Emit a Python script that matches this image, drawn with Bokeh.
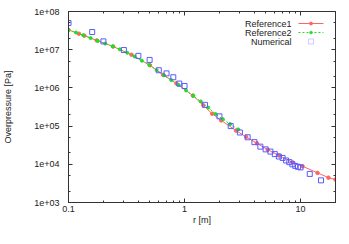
from bokeh.plotting import figure
from bokeh.models import LogAxis, FixedTicker, Label, Arrow, BoxAnnotation, Range1d
from bokeh.embed import file_html
from bokeh.resources import INLINE

# ---- data ----
ref1_r = [0.1, 0.123, 0.137, 0.175, 0.243, 0.349, 0.503, 0.653, 0.851, 1.18, 1.45, 1.73,
          2.07, 2.78, 3.39, 4.2, 5.21, 6.5, 8.54, 10.4, 14.0, 17.4, 20.0]
ref1_p = [3.3e7, 2.62e7, 2.33e7, 1.75e7, 1.21e7, 7.37e6, 3.91e6, 2.2e6, 1.31e6, 6.3e5, 3.52e5, 2.11e5,
          1.41e5, 7.63e4, 5.22e4, 3.56e4, 2.41e4, 1.71e4, 1.12e4, 8.9e3, 5.96e3, 4.47e3, 3.98e3]

ref2_r = [0.1, 0.116, 0.134, 0.155, 0.179, 0.207, 0.24, 0.277, 0.321, 0.371, 0.429, 0.497,
          0.575, 0.665, 0.769, 0.89, 1.03, 1.19, 1.38, 1.6, 1.85, 2.14, 2.47, 2.9]
ref2_p = [3.3e7, 2.81e7, 2.39e7, 2.02e7, 1.70e7, 1.45e7, 1.23e7, 1.02e7, 8.3e6, 6.65e6, 5.16e6, 4.0e6,
          2.92e6, 2.13e6, 1.6e6, 1.19e6, 8.57e5, 6.2e5, 4.42e5, 3.05e5, 2.07e5, 1.52e5, 1.13e5, 8.2e4]

num_r = [0.1, 0.16, 0.2, 0.3, 0.4, 0.5, 0.6, 0.7, 0.8, 0.9, 1.0, 1.5, 2.0, 2.5, 3.0, 3.5, 4.0, 4.5,
         5.0, 5.5, 6.0, 6.5, 7.0, 7.5, 8.0, 8.5, 9.0, 9.5, 10.0, 12.0, 15.0]
num_p = [5.0e7, 2.9e7, 1.65e7, 9.8e6, 6.9e6, 5.4e6, 2.9e6, 2.4e6, 1.9e6, 1.3e6, 1.12e6, 3.6e5, 1.8e5,
         1.0e5, 6.8e4, 5.1e4, 3.8e4, 2.9e4, 2.46e4, 2.15e4, 1.85e4, 1.6e4, 1.47e4, 1.26e4, 1.14e4,
         1.0e4, 9.1e3, 8.6e3, 8.3e3, 5.6e3, 3.8e3]

x_ticks = [0.1, 1, 10]
x_tick_labels = ["0.1", "1", "10"]
x_minor = [0.2, 0.3, 0.4, 0.5, 0.6, 0.7, 0.8, 0.9, 2, 3, 4, 5, 6, 7, 8, 9, 20]
y_ticks = [1e3, 1e4, 1e5, 1e6, 1e7, 1e8]
y_tick_labels = ["1e+03", "1e+04", "1e+05", "1e+06", "1e+07", "1e+08"]
y_minor = [2e3, 5e3, 2e4, 5e4, 2e5, 5e5, 2e6, 5e6, 2e7, 5e7]

series_names = ["Reference1", "Reference2", "Numerical"]

RED = "#ff6464"
GREEN = "#22dd22"
BLUE = "#5a5aff"
AX = "#333333"
TXT = "#222222"
FONT = "Liberation Sans"
FS = "9px"

FW, FH = 267, 191

p = figure(frame_width=FW, frame_height=FH, x_axis_type="log", y_axis_type="log",
           x_range=Range1d(0.1, 20), y_range=Range1d(1e3, 1e8),
           output_backend="svg", toolbar_location=None,
           min_border_left=62, min_border_right=2, min_border_top=11, min_border_bottom=20)
p.xgrid.visible = False
p.ygrid.visible = False
p.outline_line_color = AX
p.background_fill_color = "white"
p.border_fill_color = "white"

# data
p.line(ref1_r, ref1_p, line_color=RED, line_width=1)
p.scatter(ref1_r, ref1_p, marker="circle", size=3.5, fill_color=RED, line_color=RED)
p.line(ref2_r, ref2_p, line_color=GREEN, line_width=1, line_dash="2 2")
p.scatter(ref2_r, ref2_p, marker="circle", size=3, fill_color=GREEN, line_color=GREEN)
p.scatter(num_r, num_p, marker="square", size=5, fill_color=None, line_color=BLUE, line_width=1)

def style_axis(ax, ticks, minor, labels, show_labels):
    ax.ticker = FixedTicker(ticks=ticks, minor_ticks=minor)
    ax.major_label_overrides = {t: l for t, l in zip(ticks, labels)}
    ax.major_tick_in = 4
    ax.major_tick_out = 0
    ax.minor_tick_in = 2
    ax.minor_tick_out = 0
    ax.major_tick_line_color = AX
    ax.minor_tick_line_color = AX
    ax.axis_line_color = AX
    ax.major_label_text_font = FONT
    ax.major_label_text_color = TXT
    if show_labels:
        ax.major_label_text_font_size = FS
    else:
        ax.major_label_text_font_size = "0px"
        ax.major_label_standoff = 0

style_axis(p.xaxis[0], x_ticks, x_minor, x_tick_labels, True)
style_axis(p.yaxis[0], y_ticks, y_minor, y_tick_labels, True)
p.xaxis[0].major_label_standoff = 3
p.yaxis[0].major_label_standoff = 9
p.xaxis[0].axis_label = "r [m]"
p.yaxis[0].axis_label = "Overpressure [Pa]"
for ax in (p.xaxis[0], p.yaxis[0]):
    ax.axis_label_text_font = FONT
    ax.axis_label_text_font_size = FS
    ax.axis_label_text_font_style = "normal"
    ax.axis_label_text_color = TXT
p.xaxis[0].axis_label_standoff = 0
p.yaxis[0].axis_label_standoff = 18

top_ax = LogAxis()
style_axis(top_ax, x_ticks, x_minor, ["", "", ""], False)
p.add_layout(top_ax, "above")
right_ax = LogAxis()
style_axis(right_ax, y_ticks, y_minor, [""] * 6, False)
p.add_layout(right_ax, "right")

# legend: text right-aligned, sample to its right (screen units, relative to frame)
rows_y = [FH - 12, FH - 21, FH - 30]
text_x = 223
line_x0, line_x1 = 230, 255
mark_x = 242.5
for name, yy in zip(series_names, rows_y):
    p.add_layout(Label(x=text_x, y=yy, x_units="screen", y_units="screen", text=name,
                       text_align="right", text_baseline="middle", text_font=FONT,
                       text_font_size=FS, text_color=TXT))
p.add_layout(Arrow(start=None, end=None, x_start=line_x0, y_start=rows_y[0], x_end=line_x1, y_end=rows_y[0],
                   start_units="screen", end_units="screen", line_color=RED, line_width=1))
p.add_layout(Arrow(start=None, end=None, x_start=line_x0, y_start=rows_y[1], x_end=line_x1, y_end=rows_y[1],
                   start_units="screen", end_units="screen", line_color=GREEN, line_width=1, line_dash="2 2"))
p.add_layout(BoxAnnotation(left=mark_x - 1.75, right=mark_x + 1.75, bottom=rows_y[0] - 1.75, top=rows_y[0] + 1.75,
                           left_units="screen", right_units="screen", bottom_units="screen", top_units="screen",
                           fill_color=RED, fill_alpha=1, line_color=RED, border_radius=2))
p.add_layout(BoxAnnotation(left=mark_x - 1.5, right=mark_x + 1.5, bottom=rows_y[1] - 1.5, top=rows_y[1] + 1.5,
                           left_units="screen", right_units="screen", bottom_units="screen", top_units="screen",
                           fill_color=GREEN, fill_alpha=1, line_color=GREEN, border_radius=2))
p.add_layout(BoxAnnotation(left=mark_x - 2.5, right=mark_x + 2.5, bottom=rows_y[2] - 2.5, top=rows_y[2] + 2.5,
                           left_units="screen", right_units="screen", bottom_units="screen", top_units="screen",
                           fill_color=None, line_color=BLUE, line_width=1))

open("out.html", "w").write(file_html(p, INLINE))
